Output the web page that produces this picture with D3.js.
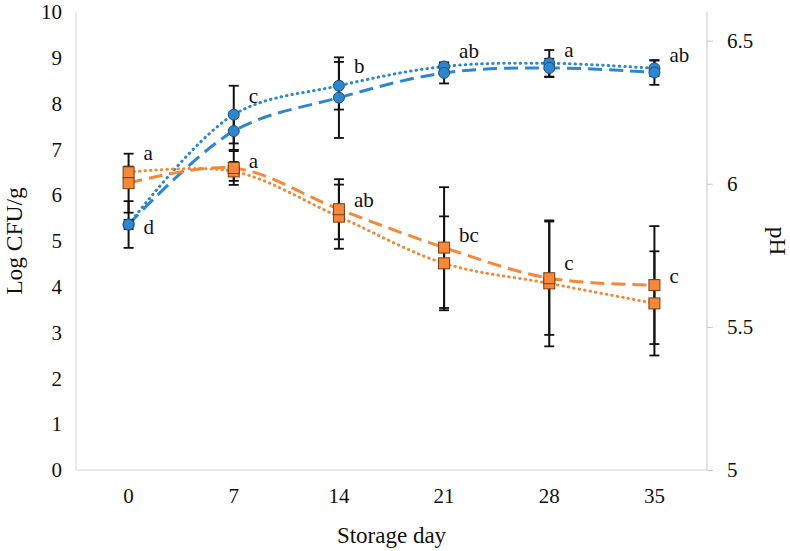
<!DOCTYPE html>
<html>
<head>
<meta charset="utf-8">
<script src="https://cdn.jsdelivr.net/npm/d3@7"></script>
<style>
  html, body { margin: 0; padding: 0; background: #fff; }
  svg { display: block; }
  text { font-family: "Liberation Serif", "Times New Roman", serif; fill: #111; }
</style>
</head>
<body>
<svg id="chart" width="790" height="551"></svg>
<script>
// ---------- data ----------
const days = ["0", "7", "14", "21", "28", "35"];

const cfuDotted    = [5.36, 7.76, 8.39, 8.81, 8.88, 8.77];
const cfuDottedErr = [0.51, 0.63, 0.52, 0.08, 0.29, 0.17];
const cfuDashed    = [5.36, 7.40, 8.13, 8.67, 8.78, 8.68];
const cfuDashedErr = [0.10, 0.41, 0.88, 0.23, 0.20, 0.27];

const phDotted     = [6.040, 6.043, 5.885, 5.722, 5.652, 5.582];
const phDottedErr  = [0.020, 0.033, 0.112, 0.164, 0.220, 0.182];
const phDashed     = [6.002, 6.055, 5.911, 5.777, 5.670, 5.646];
const phDashedErr  = [0.103, 0.059, 0.105, 0.211, 0.198, 0.206];

const cfuLetters = ["d", "c", "b", "ab", "a", "ab"];
const phLetters  = ["a", "a", "ab", "bc", "c", "c"];

const leftTicks  = [0, 1, 2, 3, 4, 5, 6, 7, 8, 9, 10];
const rightTicks = [5, 5.5, 6, 6.5];

// ---------- layout (annotation offsets, px from upper point) ----------
const cfuLetterDy = [9, -12, -13, -9, -6, -6];
const phLetterDy  = [-12, 0, -2, -6, -8, -2];

// ---------- chart ----------
const svg = d3.select("#chart");
const L = 76, R = 707, T = 12, B = 470;

const x = d3.scaleBand().domain(days).range([L, R]);
const xc = d => x(d) + x.bandwidth() / 2;
const yL = d3.scaleLinear().domain([0, 10]).range([B, T]);
const yR = d3.scaleLinear().domain([5, 6.6]).range([B, T]);

const blue = "#2E86CF", blueDark = "#1D4E78";
const orange = "#F5883A", orangeDark = "#7A3E12";

// axes
const gAxis = svg.append("g");
gAxis.append("line").attr("x1", L).attr("x2", L).attr("y1", T).attr("y2", B)
  .attr("stroke", "#d4d4d4").attr("stroke-width", 1);
gAxis.append("line").attr("x1", L).attr("x2", R).attr("y1", B).attr("y2", B)
  .attr("stroke", "#d4d4d4").attr("stroke-width", 1);

// left axis labels
const leftAxis = d3.axisLeft(yL).tickValues(leftTicks).tickSize(0).tickPadding(14).tickFormat(d3.format("d"));
const gl = svg.append("g").attr("transform", `translate(${L},0)`).call(leftAxis);
gl.select(".domain").remove();
gl.selectAll("text").style("font-size", "21px").style("font-family", "Liberation Serif");

// right axis
const rightAxis = d3.axisRight(yR).tickValues(rightTicks).tickSize(6).tickPadding(14).tickFormat(d => String(d));
const gr = svg.append("g").attr("transform", `translate(${R},0)`).call(rightAxis);
gr.select(".domain").attr("stroke", "#c8c8c8").attr("d", `M0,${T}V${B}`);
gr.selectAll(".tick line").attr("stroke", "#c8c8c8");
gr.selectAll("text").style("font-size", "21px").style("font-family", "Liberation Serif");

// bottom axis labels
const bottomAxis = d3.axisBottom(x).tickSize(0).tickPadding(18);
const gb = svg.append("g").attr("transform", `translate(0,${B})`).call(bottomAxis);
gb.select(".domain").remove();
gb.selectAll("text").style("font-size", "21px").style("font-family", "Liberation Serif");

// axis titles
svg.append("text").attr("transform", `translate(22,${(T + B) / 2}) rotate(-90)`)
  .attr("text-anchor", "middle").style("font-size", "23.5px").text("Log CFU/g");
svg.append("text").attr("transform", `translate(770,${(T + B) / 2}) rotate(90)`)
  .attr("text-anchor", "middle").style("font-size", "23.5px").text("pH");
svg.append("text").attr("x", (L + R) / 2).attr("y", 543)
  .attr("text-anchor", "middle").style("font-size", "23px").text("Storage day");

// series
const series = [
  { vals: cfuDotted, err: cfuDottedErr, y: yL, color: blue, dash: "0.5,5", cap: "round", w: 3, marker: "circle" },
  { vals: cfuDashed, err: cfuDashedErr, y: yL, color: blue, dash: "14,7", cap: "butt", w: 3, marker: "circle" },
  { vals: phDotted,  err: phDottedErr,  y: yR, color: orange, dash: "0.5,5", cap: "round", w: 3, marker: "square" },
  { vals: phDashed,  err: phDashedErr,  y: yR, color: orange, dash: "14,7", cap: "butt", w: 3, marker: "square" }
];

const gLines = svg.append("g"), gErr = svg.append("g"), gMark = svg.append("g");

series.forEach(s => {
  const pts = days.map((d, i) => [xc(d), s.y(s.vals[i])]);
  const line = d3.line().curve(d3.curveCatmullRom.alpha(0.5));
  gLines.append("path").attr("d", line(pts)).attr("fill", "none")
    .attr("stroke", s.color).attr("stroke-width", s.w)
    .attr("stroke-dasharray", s.dash).attr("stroke-linecap", s.cap);

  days.forEach((d, i) => {
    const cx = xc(d);
    const y1 = s.y(s.vals[i] + s.err[i]), y2 = s.y(s.vals[i] - s.err[i]);
    gErr.append("line").attr("x1", cx).attr("x2", cx).attr("y1", y1).attr("y2", y2)
      .attr("stroke", "#111").attr("stroke-width", 2);
    [y1, y2].forEach(yy => gErr.append("line").attr("x1", cx - 5).attr("x2", cx + 5)
      .attr("y1", yy).attr("y2", yy).attr("stroke", "#111").attr("stroke-width", 1.8));
  });
});

series.forEach(s => {
  days.forEach((d, i) => {
    const cx = xc(d), cy = s.y(s.vals[i]);
    if (s.marker === "circle") {
      gMark.append("circle").attr("cx", cx).attr("cy", cy).attr("r", 5.5)
        .attr("fill", blue).attr("stroke", blueDark).attr("stroke-width", 1);
    } else {
      gMark.append("rect").attr("x", cx - 5.5).attr("y", cy - 5.5).attr("width", 11).attr("height", 11)
        .attr("fill", orange).attr("stroke", orangeDark).attr("stroke-width", 1);
    }
  });
});

// significance letters
const gLab = svg.append("g");
days.forEach((d, i) => {
  const cx = xc(d);
  const yb = Math.min(yL(cfuDotted[i]), yL(cfuDashed[i]));
  gLab.append("text").attr("x", cx + 15).attr("y", yb + cfuLetterDy[i])
    .style("font-size", "21px").text(cfuLetters[i]);
  const yo = Math.min(yR(phDotted[i]), yR(phDashed[i]));
  gLab.append("text").attr("x", cx + 15).attr("y", yo + phLetterDy[i])
    .style("font-size", "21px").text(phLetters[i]);
});
</script>
</body>
</html>
